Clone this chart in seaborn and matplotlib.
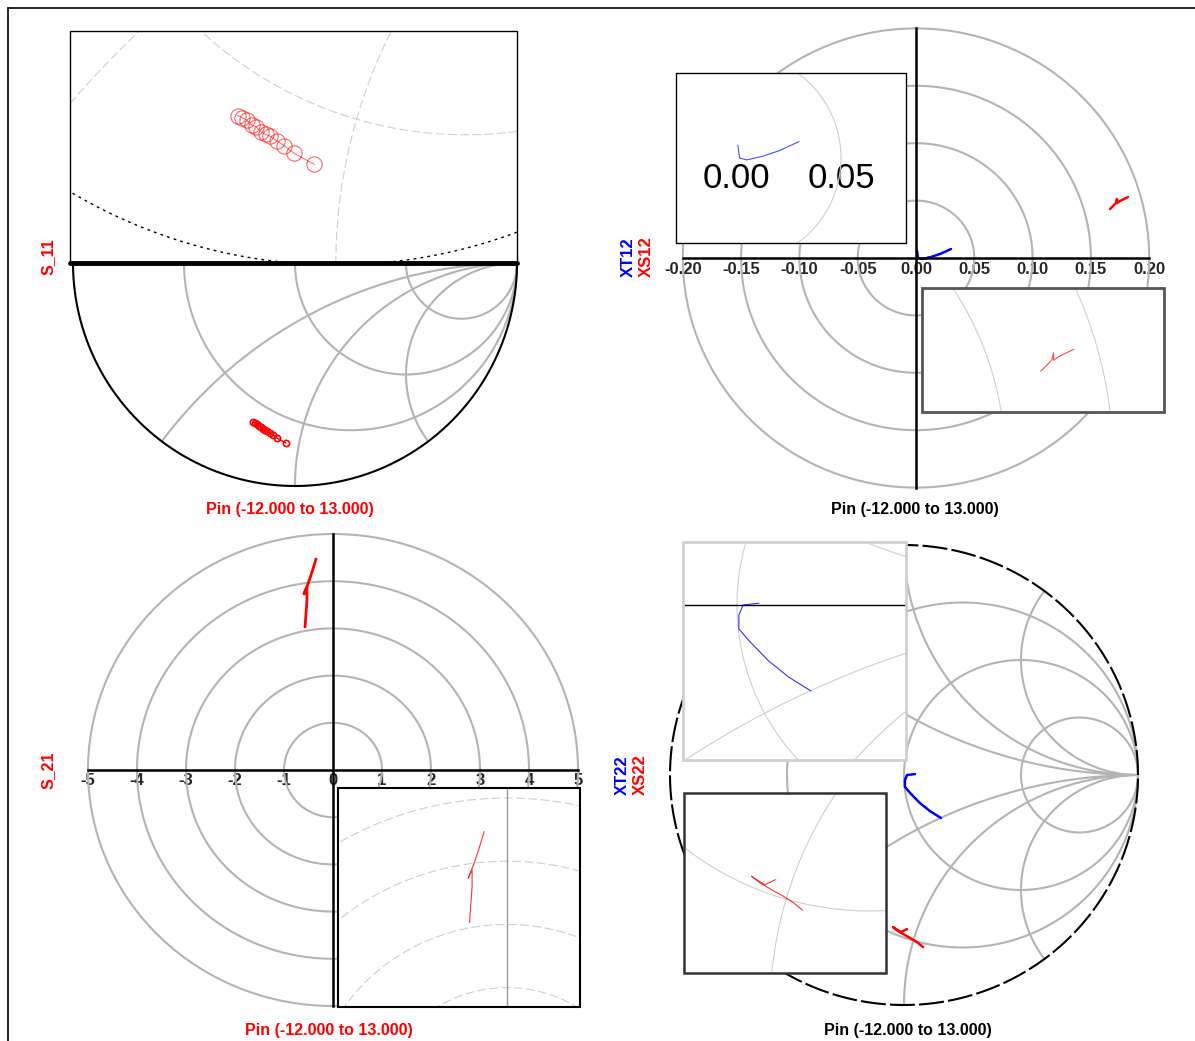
import numpy as np
import matplotlib
matplotlib.use("Agg")
import matplotlib.pyplot as plt
import seaborn as sns
from matplotlib.patches import Rectangle

sns.set_theme(style="white")
plt.rcParams['font.family'] = ['Liberation Sans', 'DejaVu Sans']

W, H = 1195, 1041

# S_11 reflection coefficient (real, imag)
s11_re = [-0.189, -0.180, -0.171, -0.162, -0.153, -0.144, -0.135, -0.126, -0.113, -0.099, -0.081, -0.041]
s11_im = [-0.713, -0.717, -0.722, -0.731, -0.735, -0.744, -0.749, -0.753, -0.762, -0.771, -0.785, -0.807]

# XT12 / XS12 (real, imag)
xt12_re = [0.0009, 0.0017, 0.0051, 0.0129, 0.0206, 0.0300]
xt12_im = [0.0061, 0.0000, -0.0009, 0.0009, 0.0035, 0.0078]
xs12_re = [0.1664, 0.1690, 0.1715, 0.1724, 0.1724, 0.1750, 0.1784, 0.1818]
xs12_im = [0.0427, 0.0453, 0.0479, 0.0514, 0.0479, 0.0497, 0.0514, 0.0531]

# S_21 (real, imag)
s21_re = [-0.347, -0.429, -0.510, -0.592, -0.531, -0.531, -0.551, -0.571]
s21_im = [4.47, 4.19, 3.94, 3.73, 3.86, 3.60, 3.31, 3.03]

# XT22 / XS22 (real, imag)
xt22_re = [0.047, 0.013, 0.004, 0.004, 0.026, 0.068, 0.111, 0.158]
xt22_im = [0.004, 0.000, -0.022, -0.052, -0.078, -0.122, -0.157, -0.187]
xs22_re = [0.013, -0.013, -0.034, -0.047, -0.026, 0.004, 0.034, 0.060, 0.081]
xs22_im = [-0.670, -0.683, -0.670, -0.661, -0.678, -0.696, -0.713, -0.730, -0.748]

sweep_title = "Pin (-12.000 to 13.000)"
ticks12 = [-0.20, -0.15, -0.10, -0.05, 0.00, 0.05, 0.10, 0.15, 0.20]
ticks21 = [-5, -4, -3, -2, -1, 0, 1, 2, 3, 4, 5]
rings12 = [0.05, 0.10, 0.15, 0.20]
rings21 = [1, 2, 3, 4, 5]

GRID = '#b4b4b4'
LIGHT = '#cfcfcf'
FAM = ['Liberation Sans', 'DejaVu Sans']

fig = plt.figure(figsize=(W / 100, H / 100), dpi=100)


def panel(box, origin, scale, inset=False):
    # box / origin in pixels from top-left, scale in px per data unit
    x0, y0, x1, y1 = box
    cx, cy = origin
    sx, sy = scale
    ax = fig.add_axes([x0 / W, 1 - y1 / H, (x1 - x0) / W, (y1 - y0) / H])
    ax.set_xlim((x0 - cx) / sx, (x1 - cx) / sx)
    ax.set_ylim((cy - y1) / sy, (cy - y0) / sy)
    ax.set_xticks([])
    ax.set_yticks([])
    for s in ax.spines.values():
        s.set_visible(False)
    if inset:
        ax.set_facecolor('white')
    else:
        ax.patch.set_alpha(0)
    return ax


def frame(ax, color, lw):
    ax.add_patch(Rectangle((0, 0), 1, 1, transform=ax.transAxes, fill=False,
                           ec=color, lw=lw, clip_on=False, zorder=6))


def smith_grid(ax, **kw):
    t = np.linspace(0, 2 * np.pi, 500)
    for r in [1 / 3, 1, 3]:
        c, rad = r / (1 + r), 1 / (1 + r)
        ax.plot(c + rad * np.cos(t), rad * np.sin(t), **kw)
    rr = np.concatenate([[0], np.logspace(-3, 3, 600)])
    for x in [0.5, 1, 2]:
        for sgn in (1, -1):
            z = rr + 1j * sgn * x
            g = (z - 1) / (z + 1)
            ax.plot(g.real, g.imag, **kw)


def rings(ax, radii, **kw):
    t = np.linspace(0, 2 * np.pi, 500)
    for r in radii:
        ax.plot(r * np.cos(t), r * np.sin(t), **kw)


def trace(ax, x, y, color, lw, **kw):
    sns.lineplot(x=x, y=y, sort=False, estimator=None, ax=ax, color=color, lw=lw, **kw)


def cross_axes(ax, lim):
    for side in ['bottom', 'left']:
        ax.spines[side].set_visible(True)
        ax.spines[side].set_position(('data', 0))
        ax.spines[side].set_color('black')
        ax.spines[side].set_linewidth(1.8)
        ax.spines[side].set_bounds(-lim, lim)


circ = np.linspace(0, 2 * np.pi, 600)

# ---------- S_11 smith chart ----------
ax = panel((60, 30, 530, 500), (295, 263), (222, 223))
smith_grid(ax, color=GRID, lw=1.5)
ax.plot(np.cos(circ), np.sin(circ), color='black', lw=1.5)
trace(ax, s11_re, s11_im, 'red', 1.0, marker='o', markersize=4.5,
      markerfacecolor='none', markeredgecolor='red', markeredgewidth=1.2)

ax = panel((70, 31, 517, 263), (335.8, -255.2), (520, 520), inset=True)
smith_grid(ax, color=LIGHT, lw=0.8, ls=(0, (8, 3)))
ax.plot(np.cos(circ), np.sin(circ), color='black', lw=1.0, ls=(0, (2, 3)))
trace(ax, s11_re, s11_im, 'red', 0.7, alpha=0.6, marker='o', markersize=11,
      markerfacecolor='none', markeredgecolor='red', markeredgewidth=0.8)
frame(ax, 'black', 1.0)
ax.plot([0, 1], [0, 0], transform=ax.transAxes, color='black', lw=3.5, clip_on=False, zorder=7)

# ---------- XT12 / XS12 polar ----------
ax = panel((655, 20, 1180, 500), (916, 258), (1166, 1148))
rings(ax, rings12, color=GRID, lw=1.5)
cross_axes(ax, 0.2)
ax.set_xticks(ticks12)
ax.set_xticklabels([f"{v:.2f}" for v in ticks12], fontweight='heavy', fontsize=12, family=FAM)
ax.tick_params(axis='x', length=0, pad=3)
trace(ax, xt12_re, xt12_im, 'blue', 1.8)
trace(ax, xs12_re, xs12_im, 'red', 1.8)

ax = panel((676, 73, 906, 243), (736, 158), (2100, 2100), inset=True)
rings(ax, rings12, color=LIGHT, lw=0.8)
trace(ax, xt12_re, xt12_im, 'blue', 0.8, alpha=0.7)
ax.spines['bottom'].set_position(('data', 0))
ax.set_xticks([0.0, 0.05])
ax.set_xticklabels(["0.00", "0.05"], fontsize=25, color='black', family=FAM)
ax.tick_params(axis='x', length=0, pad=3)
frame(ax, 'black', 1.0)

ax = panel((922, 288, 1164, 412), (681.7, 462), (2157, 2124), inset=True)
rings(ax, rings12, color=LIGHT, lw=0.8)
trace(ax, xs12_re, xs12_im, 'red', 0.8, alpha=0.7)
frame(ax, '#555555', 2.0)

# ---------- S_21 polar ----------
ax = panel((70, 525, 595, 1015), (333, 770), (49, 47.2))
rings(ax, rings21, color=GRID, lw=1.5)
cross_axes(ax, 5)
ax.set_xticks(ticks21)
ax.set_xticklabels([str(v) for v in ticks21], fontweight='heavy', fontsize=12, family=FAM)
ax.tick_params(axis='x', length=0, pad=2)
trace(ax, s21_re, s21_im, 'red', 2.0)

ax = panel((338, 788, 580, 1007), (507, 1114), (65.7, 63.2), inset=True)
rings(ax, rings21, color=LIGHT, lw=0.8, ls=(0, (8, 3)))
ax.axvline(0, color='#999999', lw=1.0)
trace(ax, s21_re, s21_im, 'red', 0.8, alpha=0.8)
frame(ax, 'black', 1.5)

# ---------- XT22 / XS22 smith chart ----------
ax = panel((650, 530, 1155, 1020), (904, 775), (234, 230))
smith_grid(ax, color=GRID, lw=1.5)
ax.plot(np.cos(circ), np.sin(circ), color='black', lw=1.5, ls=(0, (12, 2)))
trace(ax, xt22_re, xt22_im, 'blue', 1.8)
trace(ax, xs22_re, xs22_im, 'red', 1.8)

ax = panel((683, 542, 906, 760), (737, 605), (468, 460), inset=True)
smith_grid(ax, color=LIGHT, lw=0.8)
ax.axhline(0, color='black', lw=1.0)
trace(ax, xt22_re, xt22_im, 'blue', 0.8, alpha=0.8)
frame(ax, '#d0d0d0', 2.0)

ax = panel((684, 793, 886, 973), (770.2, 617.7), (398, 391), inset=True)
smith_grid(ax, color=LIGHT, lw=0.8)
trace(ax, xs22_re, xs22_im, 'red', 0.8, alpha=0.8)
frame(ax, '#333333', 1.8)


# ---------- labels ----------
def label(x, y, s, color, rot=0, size=11.5):
    fig.text(x / W, 1 - y / H, s, color=color, rotation=rot, fontsize=size,
             fontweight='bold', ha='center', va='center', family=FAM)


label(48, 257, "S_11", 'red', 90)
label(290, 510, sweep_title, 'red')
label(628, 257, "XT12", 'blue', 90, 12)
label(646, 257, "XS12", 'red', 90, 12)
label(915, 510, sweep_title, 'black')
label(48, 770, "S_21", 'red', 90)
label(329, 1030, sweep_title, 'red')
label(622, 775, "XT22", 'blue', 90, 12)
label(640, 775, "XS22", 'red', 90, 12)
label(908, 1030, sweep_title, 'black')

# outer border
fig.add_artist(plt.Line2D([8 / W, 8 / W], [0, 1 - 8 / H], transform=fig.transFigure, color='black', lw=1.2))
fig.add_artist(plt.Line2D([8 / W, 1], [1 - 8 / H, 1 - 8 / H], transform=fig.transFigure, color='black', lw=1.2))

fig.savefig("out.png", dpi=100, facecolor='white')
